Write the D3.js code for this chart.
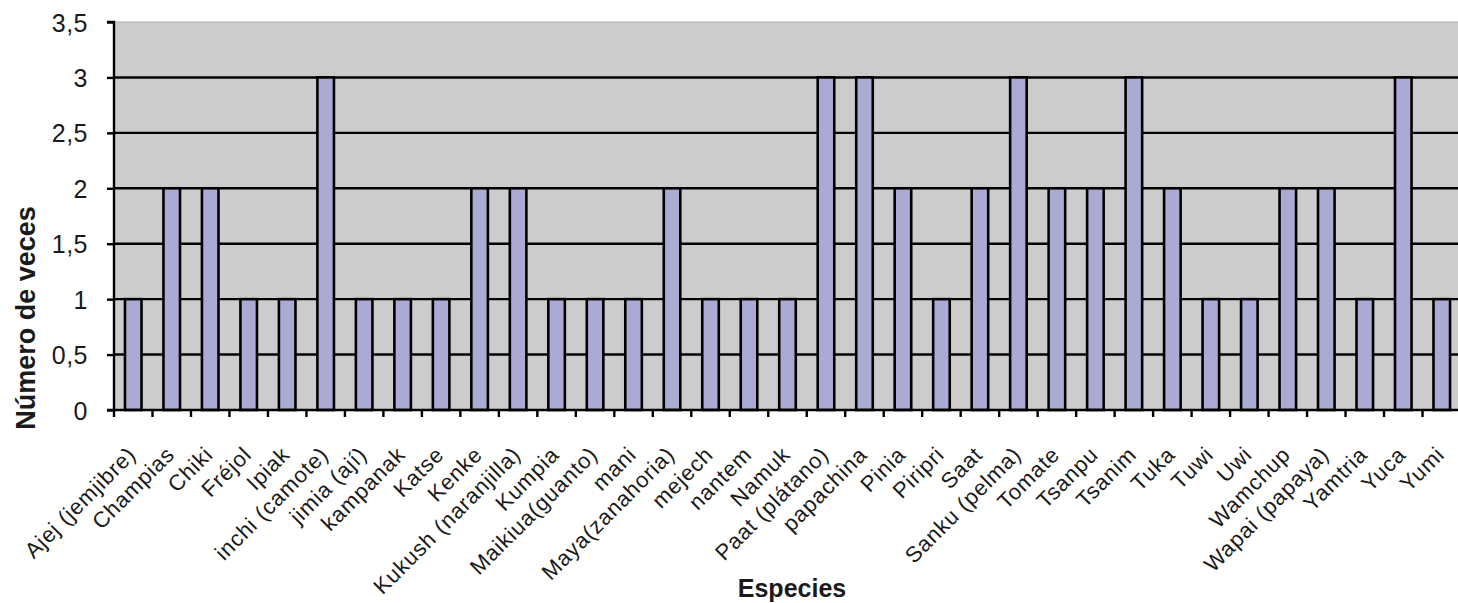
<!DOCTYPE html>
<html><head><meta charset="utf-8">
<script src="https://cdn.jsdelivr.net/npm/d3@7/dist/d3.min.js"></script>
<style>body{margin:0;background:#fff;overflow:hidden;} svg{display:block;font-family:"Liberation Sans",Arial,sans-serif;}</style>
</head><body><svg id="c" width="1458" height="603"></svg>
<script>
const categories = ["Ajej (jemjibre)","Champias","Chiki","Fréjol","Ipiak","inchi (camote)","jimia (ají)","kampanak","Katse","Kenke","Kukush (naranjilla)","Kumpia","Maikiua(guanto)","mani","Maya(zanahoria)","mejech","nantem","Namuk","Paat (plátano)","papachina","Pinia","Piripri","Saat","Sanku (pelma)","Tomate","Tsanpu","Tsanim","Tuka","Tuwi","Uwi","Wamchup","Wapai (papaya)","Yamtria","Yuca","Yumi"];
const values = [1,2,2,1,1,3,1,1,1,2,2,1,1,1,2,1,1,1,3,3,2,1,2,3,2,2,3,2,1,1,2,2,1,3,1];
const yTicks = [0,0.5,1,1.5,2,2.5,3,3.5];
const yTickLabels = ["0","0,5","1","1,5","2","2,5","3","3,5"];

const svg = d3.select("#c");
const L=114, R=1461, T=22, B=410;
const x = d3.scaleBand().domain(categories).range([L,R]).paddingInner(0.57).paddingOuter(0.285);
const y = d3.scaleLinear().domain([0,3.5]).range([B,T]);
const ink = "#1a1a1a";

svg.append("rect").attr("x",L).attr("y",T).attr("width",R-L).attr("height",B-T).attr("fill","#cccccc").attr("stroke","#b0b0b0").attr("stroke-width",1);

// gridlines
svg.append("g").selectAll("line").data(yTicks.filter(d=>d>0&&d<3.5)).join("line")
  .attr("x1",L).attr("x2",R).attr("y1",d=>y(d)).attr("y2",d=>y(d))
  .attr("stroke","#000").attr("stroke-width",2.4);

// bars
svg.append("g").selectAll("rect").data(values).join("rect")
  .attr("x",(d,i)=>x(categories[i])).attr("width",x.bandwidth())
  .attr("y",d=>y(d)).attr("height",d=>y(0)-y(d))
  .attr("fill","#aaaad4").attr("stroke","#000").attr("stroke-width",2.6);

// y axis
const yAxis = d3.axisLeft(y).tickValues(yTicks).tickFormat((d,i)=>yTickLabels[i]).tickSize(7).tickPadding(19);
const gy = svg.append("g").attr("transform",`translate(${L},0)`).call(yAxis);
gy.select(".domain").attr("stroke","#000").attr("stroke-width",2.4).attr("d",`M-7,${T}H0V${B}H-7`);
gy.selectAll(".tick line").attr("stroke","#000").attr("stroke-width",2.4);
gy.selectAll(".tick text").attr("font-size",25).attr("fill",ink).attr("font-family","Liberation Sans, Arial, sans-serif").attr("dy","0.36em").attr("letter-spacing","0.5px");

// x axis
const gx = svg.append("g").attr("transform",`translate(0,${B})`).call(d3.axisBottom(x).tickSize(0).tickFormat(""));
gx.select(".domain").attr("stroke","#000").attr("stroke-width",2.4).attr("d",`M${L},0H${R}`);
gx.selectAll(".tick").remove();
const step = x.step();
svg.append("g").selectAll("line").data(d3.range(categories.length+1)).join("line")
  .attr("x1",i=>L+i*step).attr("x2",i=>L+i*step).attr("y1",B).attr("y2",B+7)
  .attr("stroke","#000").attr("stroke-width",2.4);

// x labels
svg.append("g").selectAll("text").data(categories).join("text")
  .attr("transform",d=>`translate(${x(d)+x.bandwidth()/2+4},${B+46}) rotate(-45)`)
  .attr("text-anchor","end").attr("font-size",22).attr("letter-spacing","0.8px").attr("fill",ink).text(d=>d);

// titles
svg.append("text").attr("transform",`translate(35,318) rotate(-90)`).attr("text-anchor","middle")
  .attr("font-size",27).attr("font-weight","bold").attr("fill",ink).text("Número de veces");
svg.append("text").attr("x",792).attr("y",597).attr("text-anchor","middle")
  .attr("font-size",25).attr("font-weight","bold").attr("fill",ink).text("Especies");
</script></body></html>
